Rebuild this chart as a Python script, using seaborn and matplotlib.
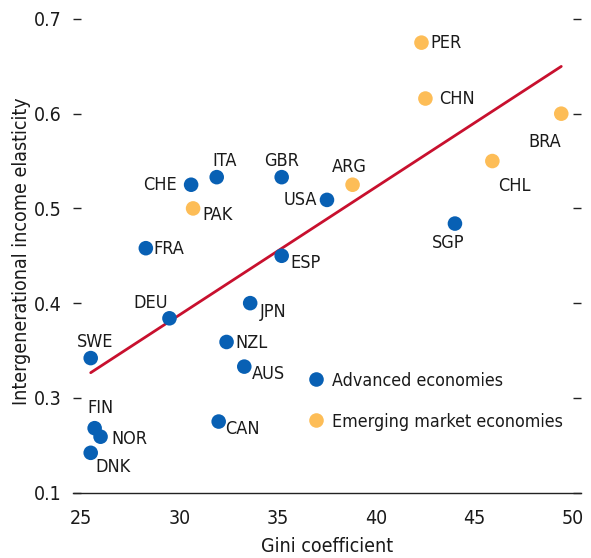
import matplotlib
matplotlib.use("Agg")
import matplotlib.pyplot as plt
import numpy as np
import pandas as pd
import seaborn as sns

# Country codes, Gini coefficients and intergenerational income elasticities
codes = ["PER", "CHN", "BRA", "CHL", "ARG", "SGP", "CHE", "ITA", "GBR", "USA", "PAK",
         "FRA", "ESP", "DEU", "JPN", "SWE", "NZL", "AUS", "CAN", "FIN", "NOR", "DNK"]
gini = [42.3, 42.5, 49.4, 45.9, 38.8, 44.0, 30.6, 31.9, 35.2, 37.5, 30.7,
        28.3, 35.2, 29.5, 33.6, 25.5, 32.4, 33.3, 32.0, 25.7, 26.0, 25.5]
elasticity = [0.675, 0.616, 0.600, 0.550, 0.525, 0.484, 0.525, 0.533, 0.533, 0.509, 0.500,
              0.458, 0.450, 0.384, 0.400, 0.342, 0.359, 0.333, 0.275, 0.268, 0.259, 0.242]
group = ["Emerging market economies"] * 5 + ["Advanced economies", "Advanced economies",
         "Advanced economies", "Advanced economies", "Advanced economies",
         "Emerging market economies"] + ["Advanced economies"] * 11

groups = ["Advanced economies", "Emerging market economies"]
x_ticks = [25, 30, 35, 40, 45, 50]
y_ticks = [0.2, 0.3, 0.4, 0.5, 0.6, 0.7]
y_tick_labels = ["0.1", "0.3", "0.4", "0.5", "0.6", "0.7"]

df = pd.DataFrame({"code": codes, "gini": gini, "ige": elasticity, "group": group})

# label placement around each dot: (dx, dy) in pixels, horizontal alignment
label_pos = {
    "PER": (9, 0, "left"), "CHN": (14, 0, "left"), "BRA": (-17, -28, "center"),
    "CHL": (22, -24, "center"), "ARG": (-3, 18, "center"), "SGP": (-7, -19, "center"),
    "CHE": (-14, 0, "right"), "ITA": (8, 17, "center"), "GBR": (0, 17, "center"),
    "USA": (-10, 0, "right"), "PAK": (9, -6, "left"), "FRA": (8, 0, "left"),
    "ESP": (9, -7, "left"), "DEU": (-19, 16, "center"), "JPN": (10, -8, "left"),
    "SWE": (4, 17, "center"), "NZL": (9, -1, "left"), "AUS": (8, -7, "left"),
    "CAN": (6, -7, "left"), "FIN": (6, 21, "center"), "NOR": (11, -2, "left"),
    "DNK": (22, -14, "center"),
}

sns.set_style("white")
plt.rcParams["font.family"] = ["DejaVu Sans"]
plt.rcParams["font.stretch"] = "condensed"

blue = "#0860B4"
gold = "#FDBD57"
red = "#C8102E"
ink = "#1a1a1a"

fig = plt.figure(figsize=(5.91, 5.58), dpi=100)
ax = fig.add_axes([0.1235, 0.1172, 0.8595, 0.8658])

sns.regplot(data=df, x="gini", y="ige", ci=None, scatter=False, truncate=True,
            color=red, line_kws={"linewidth": 2}, ax=ax)
sns.scatterplot(data=df, x="gini", y="ige", hue="group", hue_order=groups,
                palette=[blue, gold], s=110, linewidth=0, ax=ax, zorder=3)

for code, gx, gy in zip(df["code"], df["gini"], df["ige"]):
    dx, dy, ha = label_pos[code]
    ax.annotate(code, (gx, gy), xytext=(dx, dy - 0.5), textcoords="offset pixels",
                ha=ha, va="center", fontsize=13, color=ink)

ax.set_xlim(24.6, 50.4)
ax.set_ylim(0.2, 0.71)
ax.set_xticks(x_ticks)
ax.set_yticks(y_ticks)
ax.set_yticklabels(y_tick_labels)

for side in ["top", "left", "right"]:
    ax.spines[side].set_visible(False)
ax.spines["bottom"].set_color("#222222")
ax.spines["bottom"].set_linewidth(1.0)

ax.tick_params(axis="x", direction="in", length=4.5, width=1, color="#222222",
               pad=12, labelsize=14, labelcolor=ink)
ax.tick_params(axis="y", direction="in", length=6, width=1, color="#222222",
               left=True, right=True, pad=8, labelsize=14, labelcolor=ink)

ax.set_xlabel("Gini coefficient", fontsize=14, color=ink, labelpad=6)
ax.set_ylabel("Intergenerational income elasticity", fontsize=14, color=ink, labelpad=2)

leg = ax.legend(loc="upper left", bbox_to_anchor=(0.443, 0.269), frameon=False,
                fontsize=12.8, handlelength=1.0, handletextpad=0.4, labelspacing=1.3,
                borderpad=0, markerscale=1.0)
for t in leg.get_texts():
    t.set_color(ink)

fig.savefig("out.png", dpi=100)
